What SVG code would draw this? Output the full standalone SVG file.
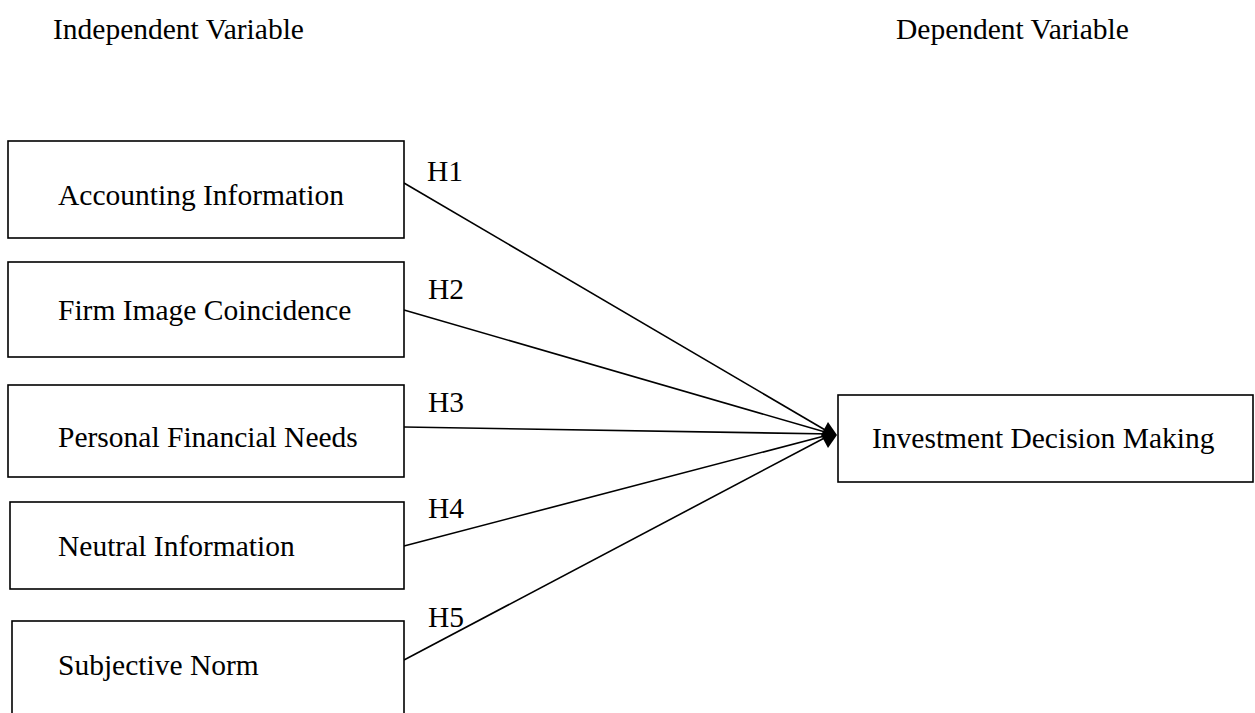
<svg xmlns="http://www.w3.org/2000/svg" width="1255" height="713" viewBox="0 0 1255 713">
<style>
.box{fill:#fff;stroke:#000;stroke-width:1.6}
.t{font-family:"Liberation Serif","Times New Roman",serif;font-size:29.5px;fill:#000}
.c{stroke:#000;stroke-width:1.6;fill:none}
</style>
<rect width="1255" height="713" fill="#fff"/>
<text class="t" x="53" y="39">Independent Variable</text>
<text class="t" x="896" y="39">Dependent Variable</text>
<g id="connectors">
<line class="c" x1="404" y1="183" x2="832" y2="434"/>
<line class="c" x1="404" y1="310" x2="832" y2="434"/>
<line class="c" x1="404" y1="427" x2="832" y2="434"/>
<line class="c" x1="404" y1="546" x2="832" y2="434"/>
<line class="c" x1="404" y1="660" x2="832" y2="434"/>
<polygon points="837,435 828,422 821,435 828,448" fill="#000"/>
<text class="t" x="427" y="181">H1</text>
<text class="t" x="428" y="299">H2</text>
<text class="t" x="428" y="412">H3</text>
<text class="t" x="428" y="518">H4</text>
<text class="t" x="428" y="627">H5</text>
</g>
<g id="n1"><rect class="box" x="8" y="141" width="396" height="97"/><text class="t" x="58" y="205">Accounting Information</text></g>
<g id="n2"><rect class="box" x="8" y="262" width="396" height="95"/><text class="t" x="58" y="320">Firm Image Coincidence</text></g>
<g id="n3"><rect class="box" x="8" y="385" width="396" height="92"/><text class="t" x="58" y="447">Personal Financial Needs</text></g>
<g id="n4"><rect class="box" x="10" y="502" width="394" height="87"/><text class="t" x="58" y="556">Neutral Information</text></g>
<g id="n5"><rect class="box" x="12" y="621" width="392" height="110"/><text class="t" x="58" y="675">Subjective Norm</text></g>
<g id="n6"><rect class="box" x="838" y="395" width="415" height="87"/><text class="t" x="872" y="448">Investment Decision Making</text></g>
</svg>
